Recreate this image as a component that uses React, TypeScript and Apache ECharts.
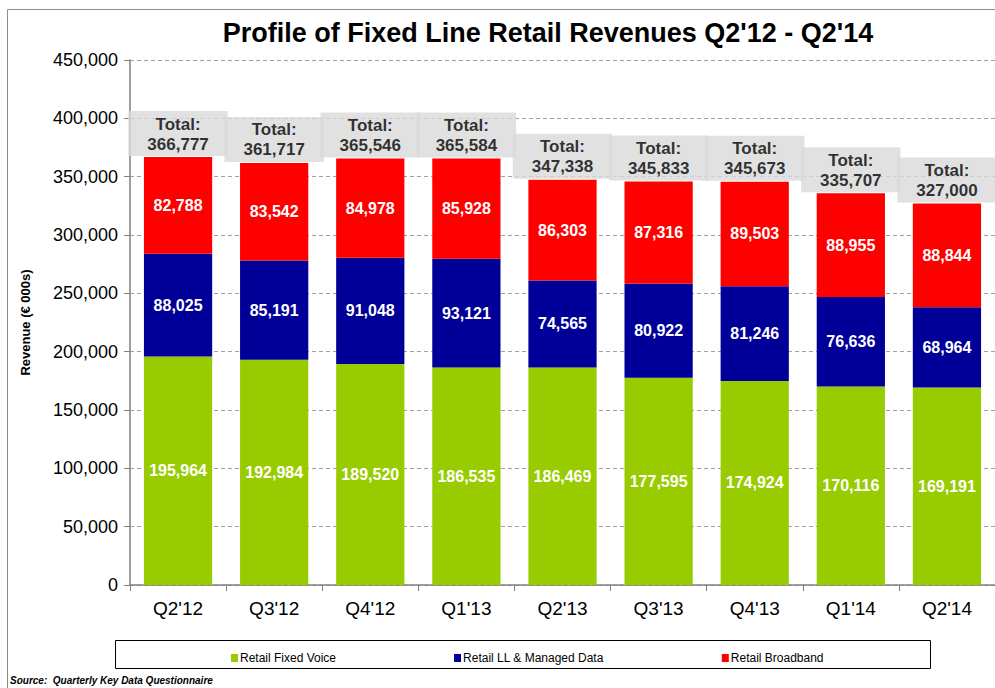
import React, { useEffect, useRef } from "react";
import * as echarts from "echarts";

const categories = ["Q2'12", "Q3'12", "Q4'12", "Q1'13", "Q2'13", "Q3'13", "Q4'13", "Q1'14", "Q2'14"];
const fixedVoice = [195964, 192984, 189520, 186535, 186469, 177595, 174924, 170116, 169191];
const llManaged = [88025, 85191, 91048, 93121, 74565, 80922, 81246, 76636, 68964];
const broadband = [82788, 83542, 84978, 85928, 86303, 87316, 89503, 88955, 88844];
const totals = [366777, 361717, 365546, 365584, 347338, 345833, 345673, 335707, 327000];
const yTicks = [0, 50000, 100000, 150000, 200000, 250000, 300000, 350000, 400000, 450000];

const fmt = (v: number) => v.toLocaleString("en-US");

export default function App() {
  const ref = useRef<HTMLDivElement>(null);
  useEffect(() => {
    document.body.style.margin = "0";
    const chart = echarts.init(ref.current!, null, { renderer: "svg" });
    const inner = {
      show: true,
      position: "inside" as const,
      color: "#ffffff",
      fontWeight: "bold" as const,
      fontSize: 16,
      fontFamily: "Arial, 'Liberation Sans', sans-serif",
      formatter: (p: any) => fmt(p.value),
    };
    chart.setOption({
      animation: false,
      backgroundColor: "#ffffff",
      textStyle: { fontFamily: "Arial, 'Liberation Sans', sans-serif" },
      title: {
        text: "Profile of Fixed Line Retail Revenues Q2'12 - Q2'14",
        left: 543,
        textAlign: "center",
        top: 14,
        textStyle: { fontSize: 27, fontWeight: "bold", color: "#000" },
      },
      grid: { left: 130, top: 60, width: 877, height: 525, containLabel: false },
      legend: {
        data: ["Retail Fixed Voice", "Retail LL & Managed Data", "Retail Broadband"],
        left: 226,
        top: 647,
        itemWidth: 7,
        itemHeight: 8,
        itemGap: 118,
        icon: "rect",
        textStyle: { fontSize: 12, color: "#000", padding: [0, 0, 0, -3] },
      },
      xAxis: {
        type: "category",
        data: categories,
        axisLine: { lineStyle: { color: "#808080", width: 1.5 } },
        axisTick: { show: true, length: 6, lineStyle: { color: "#808080" } },
        axisLabel: { fontSize: 19, color: "#000", margin: 14 },
      },
      yAxis: {
        type: "value",
        min: 0,
        max: 450000,
        interval: 50000,
        name: "Revenue (€ 000s)",
        nameLocation: "middle",
        nameGap: 98,
        nameTextStyle: { fontSize: 13, fontWeight: "bold", color: "#000" },
        axisLine: { show: true, lineStyle: { color: "#808080", width: 1.5 } },
        axisTick: { show: true, length: 6, inside: false, lineStyle: { color: "#808080" } },
        axisLabel: {
          fontSize: 18,
          color: "#000",
          margin: 12,
          formatter: (v: number) => (yTicks.includes(v) ? fmt(v) : ""),
        },
        splitLine: { lineStyle: { color: "#a0a0a0", type: [4, 3] } },
      },
      series: [
        {
          name: "Retail Fixed Voice",
          type: "bar",
          stack: "rev",
          barWidth: "71%",
          data: fixedVoice,
          itemStyle: { color: "#99cc00" },
          label: inner,
        },
        {
          name: "Retail LL & Managed Data",
          type: "bar",
          stack: "rev",
          data: llManaged,
          itemStyle: { color: "#000099" },
          label: inner,
        },
        {
          name: "Retail Broadband",
          type: "bar",
          stack: "rev",
          data: broadband,
          itemStyle: { color: "#ff0000" },
          label: inner,
        },
        {
          name: "Total",
          type: "scatter",
          data: totals,
          symbolSize: 0,
          silent: true,
          label: {
            show: true,
            position: "top",
            distance: 1,
            formatter: (p: any) => "Total:\n" + fmt(p.value),
            backgroundColor: "#d9d9d9",
            padding: [3, 19, 2, 19],
            fontSize: 17,
            lineHeight: 20,
            fontWeight: "bold",
            color: "#000",
            align: "center",
          },
        },
      ],
      graphic: [
        {
          type: "rect",
          shape: { x: 7.5, y: 9.5, width: 1000, height: 700 },
          style: { fill: "none", stroke: "#8c8c8c", lineWidth: 1 },
          silent: true,
          z: -1,
        },
        {
          type: "rect",
          shape: { x: 115.5, y: 640.5, width: 815, height: 28 },
          style: { fill: "none", stroke: "#000", lineWidth: 1 },
          silent: true,
        },
        {
          type: "text",
          x: 10,
          y: 675,
          style: {
            text: "Source:  Quarterly Key Data Questionnaire",
            fontSize: 10,
            fontStyle: "italic",
            fontWeight: "bold",
            fill: "#000",
            fontFamily: "Arial, 'Liberation Sans', sans-serif",
          },
        },
      ],
    });
    return () => chart.dispose();
  }, []);
  return <div ref={ref} style={{ position: "absolute", left: 0, top: 0, width: 995, height: 688 }} />;
}
